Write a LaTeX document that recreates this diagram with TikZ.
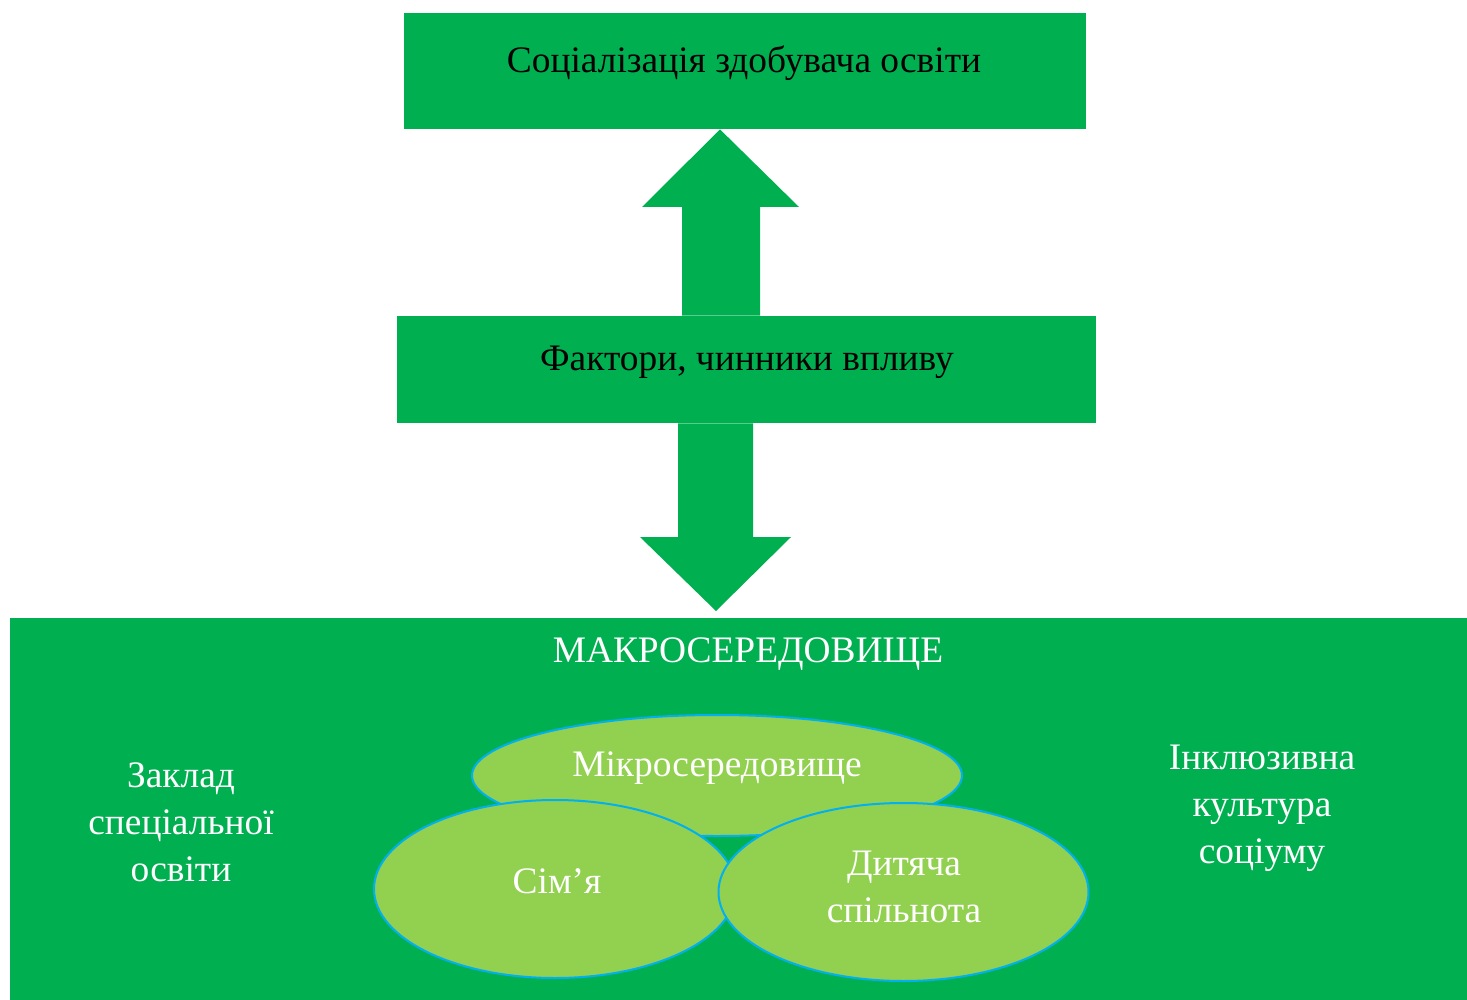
\documentclass[tikz,border=0pt]{standalone}
\usepackage{fontspec}
\setmainfont{Liberation Serif}
\usetikzlibrary{shapes.geometric,calc}
\definecolor{dgreen}{HTML}{00B050}
\definecolor{lgreen}{HTML}{92D050}
\definecolor{lblue}{HTML}{00B0F0}
\tikzset{
  box/.style={fill=dgreen, draw=none, inner sep=0pt, rectangle},
  blk/.style={font=\fontsize{18.7}{23.5}\selectfont, text=black, inner sep=0pt},
  wht/.style={font=\fontsize{18.7}{23.5}\selectfont, text=white, inner sep=0pt, align=center},
  oval/.style={ellipse, fill=lgreen, draw=lblue, line width=1pt, inner sep=0pt},
  blockarrow/.style={fill=dgreen, draw=none},
}
\begin{document}
\begin{tikzpicture}[x=0.5pt,y=-0.5pt]
\useasboundingbox (0,0) rectangle (1467,1000);
% boxes
\node[box, minimum width=341pt, minimum height=58pt] (top) at (745,71) {};
\node[blk] (toptxt) at (744,63) {Соціалізація здобувача освіти};
\node[box, minimum width=349.5pt, minimum height=53.5pt] (mid) at (746.5,369.5) {};
\node[blk] (midtxt) at (747,362) {Фактори, чинники впливу};
\node[box, minimum width=728.5pt, minimum height=191pt] (macro) at (738.5,809) {};
\node[wht] (macrotxt) at (748,654) {МАКРОСЕРЕДОВИЩЕ};
% block arrows
\fill[blockarrow] (720,129 |- top.south) -- (799,207) -- (760,207) -- (760,0 |- mid.north)
  -- (682,0 |- mid.north) -- (682,207) -- (642,207) -- cycle;
\fill[blockarrow] (678,0 |- mid.south) -- (753,0 |- mid.south) -- (753,537) -- (791,537)
  -- (716,611) -- (640,537) -- (678,537) -- cycle;
% ovals
\node[oval, minimum width=245pt, minimum height=60.5pt] (micro) at (717,775.5) {};
\node[wht] (microtxt) at (717,768) {Мікросередовище};
\node[oval, minimum width=181pt, minimum height=89pt] (fam) at (555,889) {};
\node[wht] (famtxt) at (557,881) {Сім’я};
\node[oval, minimum width=185pt, minimum height=89pt] (kids) at (903.5,892) {};
\node[wht] (kidstxt) at (904,887) {Дитяча\\спільнота};
% side texts
\node[wht] (school) at (181,822) {Заклад\\спеціальної\\освіти};
\node[wht] (incl) at (1262,808) {Інклюзивна\\культура\\соціуму};
\end{tikzpicture}
\end{document}
